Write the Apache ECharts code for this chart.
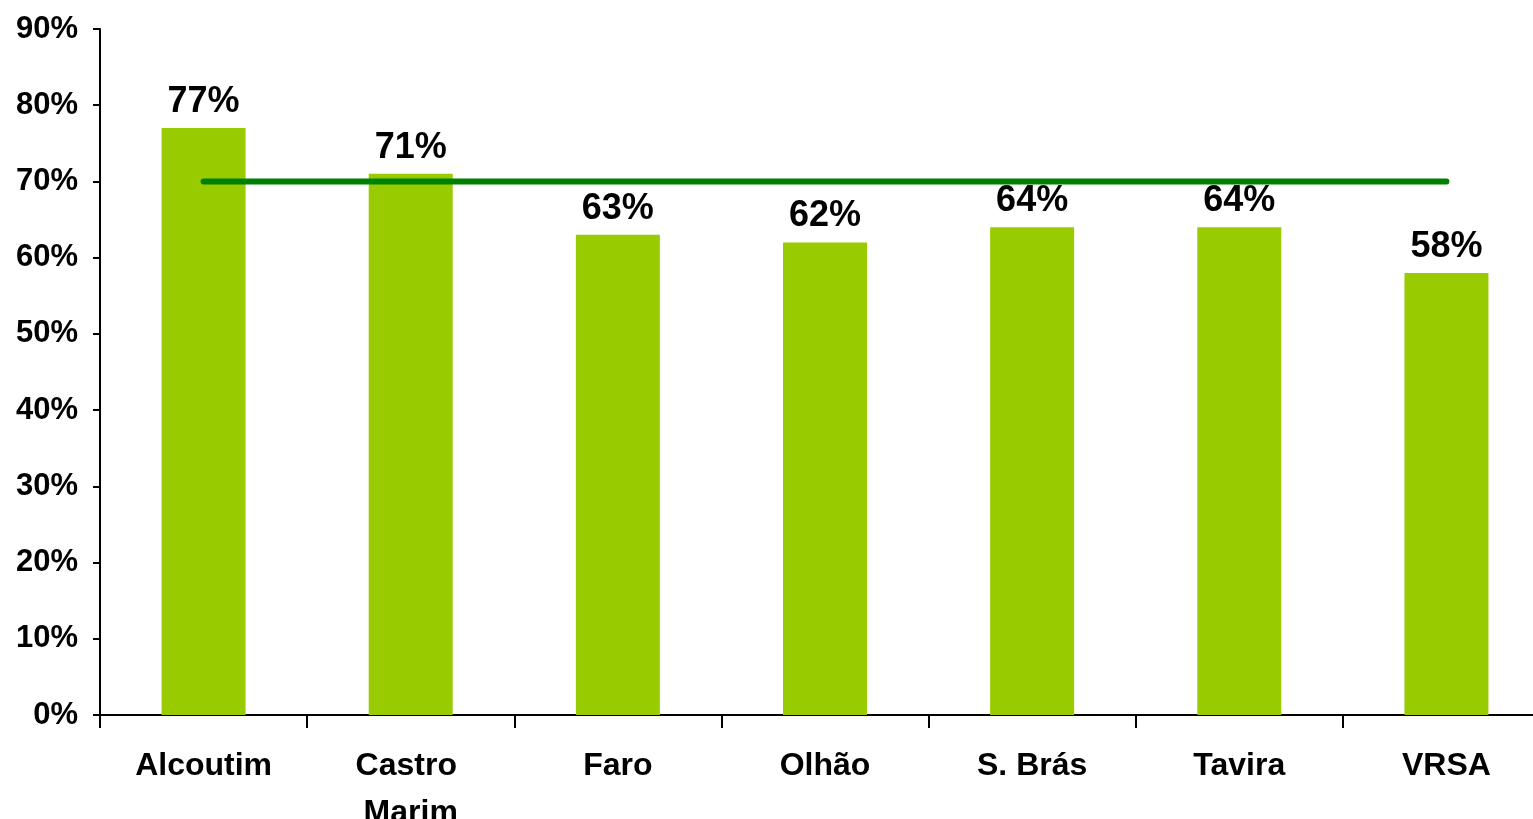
<!DOCTYPE html>
<html>
<head>
<meta charset="utf-8">
<script src="https://cdn.jsdelivr.net/npm/echarts@6/dist/echarts.min.js"></script>
<style>
  html, body { margin: 0; padding: 0; background: #fff; overflow: hidden; }
  #chart { width: 1533px; height: 819px; }
</style>
</head>
<body>
<div id="chart"></div>
<script>
const categories = ["Alcoutim", "Castro Marim", "Faro", "Olhão", "S. Brás", "Tavira", "VRSA"];
const shareValues = [77, 71, 63, 62, 64, 64, 58];
const averageValues = [70, 70, 70, 70, 70, 70, 70];

const FONT = "'Liberation Sans', Arial, sans-serif";

let myChart = echarts.init(document.getElementById("chart"));
let option = {
  animation: false,
  textStyle: { fontFamily: FONT },
  grid: { left: 100, right: -17, top: 29, bottom: 104, outerBoundsMode: "none", containLabel: false },
  xAxis: {
    type: "category",
    data: categories,
    boundaryGap: true,
    axisLine: { lineStyle: { color: "#000", width: 2 } },
    axisTick: { show: true, alignWithLabel: false, interval: 0, length: 13, lineStyle: { color: "#000", width: 2 } },
    axisLabel: {
      color: "#000",
      fontFamily: FONT,
      fontWeight: "bold",
      fontSize: 32,
      lineHeight: 47,
      margin: 28,
      width: 160,
      overflow: "break",
      interval: 0
    }
  },
  yAxis: {
    type: "value",
    min: 0,
    max: 90,
    interval: 10,
    splitLine: { show: false },
    axisLine: { show: true, lineStyle: { color: "#000", width: 2 } },
    axisTick: { show: true, length: 7, lineStyle: { color: "#000", width: 2 } },
    axisLabel: {
      color: "#000",
      fontFamily: FONT,
      fontWeight: "bold",
      fontSize: 31,
      margin: 22,
      formatter: "{value}%"
    }
  },
  series: [
    {
      name: "Concelho",
      type: "bar",
      data: shareValues,
      barWidth: 84,
      itemStyle: { color: "#99CC00" },
      label: {
        show: true,
        position: "top",
        distance: 8,
        color: "#000",
        fontFamily: FONT,
        fontWeight: "bold",
        fontSize: 36,
        formatter: "{c}%"
      },
      z: 2
    },
    {
      name: "Média",
      type: "line",
      data: averageValues,
      symbol: "none",
      lineStyle: { color: "#008000", width: 6, cap: "round" },
      z: 3
    }
  ]
};
myChart.setOption(option);
</script>
</body>
</html>
